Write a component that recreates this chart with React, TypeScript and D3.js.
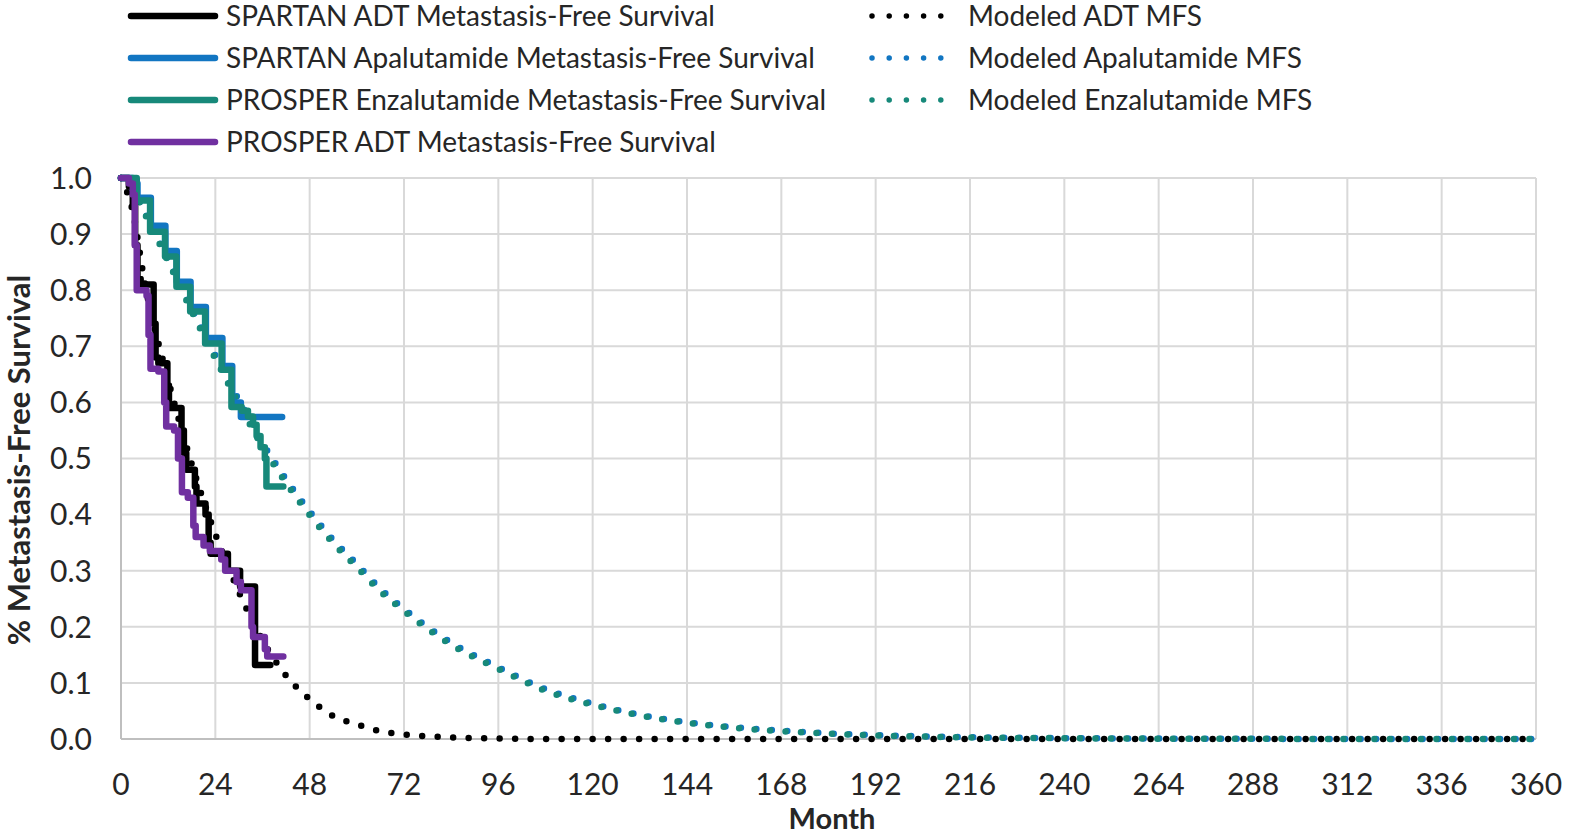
import React from 'react';
import * as d3 from 'd3';

// axis ticks
const monthTicks = [0, 24, 48, 72, 96, 120, 144, 168, 192, 216, 240, 264, 288, 312, 336, 360];
const survivalTicks = [0, 0.1, 0.2, 0.3, 0.4, 0.5, 0.6, 0.7, 0.8, 0.9, 1.0];

// Kaplan-Meier steps: [month, survival] (value holds until next month)
const spartanAdt = [
  [0, 1.0], [2, 0.985], [3, 0.95], [3.6, 0.88], [4.2, 0.82], [5, 0.81], [8.3, 0.74], [8.8, 0.68],
  [9.5, 0.67], [11.8, 0.63], [12.2, 0.59], [15.4, 0.55], [16, 0.51], [16.6, 0.48], [18.8, 0.45],
  [19.2, 0.42], [21.5, 0.4], [22.3, 0.35], [22.8, 0.33], [27.2, 0.3], [30.3, 0.272], [34.1, 0.132],
  [38, 0.132],
];
const spartanApa = [
  [0, 1.0], [3, 0.99], [4.2, 0.965], [7.6, 0.915], [11.3, 0.87], [14.2, 0.815], [17.7, 0.77],
  [21.6, 0.715], [25.8, 0.665], [28.3, 0.6], [30.5, 0.574], [41, 0.574],
];
const prosperEnza = [
  [0, 1.0], [4, 0.96], [7.4, 0.904], [11.2, 0.86], [14.1, 0.806], [17.6, 0.762], [21.4, 0.705],
  [25.6, 0.658], [28.1, 0.592], [30.7, 0.585], [32.3, 0.575], [33.6, 0.56], [34.5, 0.54],
  [35.5, 0.52], [36.6, 0.5], [37, 0.45], [41.3, 0.45],
];
const prosperAdt = [
  [0, 1.0], [2, 0.99], [3, 0.97], [3.5, 0.88], [4, 0.8], [6.5, 0.79], [7, 0.72], [7.5, 0.66],
  [9.5, 0.655], [11, 0.6], [11.5, 0.557], [13.5, 0.55], [14.5, 0.5], [15.5, 0.44], [17, 0.43],
  [18.4, 0.38], [19, 0.36], [21, 0.345], [22.6, 0.335], [25.5, 0.32], [26.5, 0.3], [29.4, 0.28],
  [30.5, 0.265], [33.2, 0.2], [33.6, 0.182], [36.6, 0.16], [37.2, 0.147], [41.3, 0.147],
];

// modeled curves
const modeledMonths = [0, 3, 6, 12, 18, 24, 30, 36, 42, 48, 54, 60, 66, 72, 84, 96, 108, 120, 132, 144, 156, 168, 180, 192, 216, 240, 264, 288, 312, 336, 360];
const modeledAdt = [1.0, 0.94, 0.815, 0.64, 0.49, 0.365, 0.262, 0.176, 0.113, 0.071, 0.041, 0.026, 0.014, 0.008, 0.003, 0.001, 0, 0, 0, 0, 0, 0, 0, 0, 0, 0, 0, 0, 0, 0, 0];
const modeledApa = [1.0, 0.98, 0.94, 0.855, 0.767, 0.684, 0.604, 0.528, 0.463, 0.406, 0.355, 0.312, 0.268, 0.232, 0.172, 0.128, 0.089, 0.063, 0.043, 0.03, 0.021, 0.015, 0.01, 0.007, 0.003, 0.0015, 0.0007, 0.0003, 0.0001, 0, 0];
const modeledEnza = [1.0, 0.98, 0.937, 0.851, 0.762, 0.678, 0.597, 0.521, 0.456, 0.399, 0.349, 0.306, 0.263, 0.228, 0.168, 0.125, 0.086, 0.061, 0.042, 0.029, 0.02, 0.014, 0.0095, 0.0065, 0.0028, 0.0014, 0.0006, 0.0003, 0.0001, 0, 0];

const BLACK = '#000000', BLUE = '#1276C2', TEAL = '#17897A', PURPLE = '#7030A0';
const FONT = 'Lato, sans-serif';

const kmSeries = [
  { name: 'SPARTAN ADT Metastasis-Free Survival', color: BLACK, data: spartanAdt },
  { name: 'SPARTAN Apalutamide Metastasis-Free Survival', color: BLUE, data: spartanApa },
  { name: 'PROSPER Enzalutamide Metastasis-Free Survival', color: TEAL, data: prosperEnza },
  { name: 'PROSPER ADT Metastasis-Free Survival', color: PURPLE, data: prosperAdt },
];
const modeledSeries = [
  { name: 'Modeled ADT MFS', color: BLACK, values: modeledAdt },
  { name: 'Modeled Apalutamide MFS', color: BLUE, values: modeledApa },
  { name: 'Modeled Enzalutamide MFS', color: TEAL, values: modeledEnza },
];

export default function App() {
  const width = 1570, height = 836;
  const x = d3.scaleLinear().domain([0, 360]).range([121, 1536]);
  const y = d3.scaleLinear().domain([0, 1]).range([739, 178]);

  const stepLine = d3.line<number[]>()
    .x(d => x(d[0]))
    .y(d => y(d[1]))
    .curve(d3.curveStepAfter);

  const smoothLine = d3.line<[number, number]>()
    .x(d => x(d[0]))
    .y(d => y(d[1]))
    .curve(d3.curveMonotoneX);

  return (
    <svg width={width} height={height} style={{ position: 'absolute', left: 0, top: 0, background: '#fff' }}>
      {/* grid */}
      <g stroke="#d9d9d9" strokeWidth={2}>
        {survivalTicks.map(t => (
          <line key={'h' + t} x1={x(0)} x2={x(360)} y1={y(t)} y2={y(t)} />
        ))}
        {monthTicks.map(t => (
          <line key={'v' + t} x1={x(t)} x2={x(t)} y1={y(0)} y2={y(1)} />
        ))}
      </g>
      <line x1={x(0)} x2={x(360)} y1={y(0)} y2={y(0)} stroke="#bfbfbf" strokeWidth={2} />
      <line x1={x(0)} x2={x(0)} y1={y(0)} y2={y(1)} stroke="#bfbfbf" strokeWidth={2} />

      {/* tick labels */}
      <g fontFamily={FONT} fontSize={30} fill="#262626">
        {survivalTicks.map(t => (
          <text key={'yl' + t} x={92} y={y(t)} dy="0.36em" textAnchor="end">{t.toFixed(1)}</text>
        ))}
        {monthTicks.map(t => (
          <text key={'xl' + t} x={x(t)} y={784} dy="0.36em" textAnchor="middle">{t}</text>
        ))}
      </g>

      {/* axis titles */}
      <text x={832} y={819} dy="0.36em" textAnchor="middle" fontFamily={FONT} fontSize={29} fontWeight="bold" fill="#262626">Month</text>
      <text transform="translate(19,460) rotate(-90)" dy="0.36em" textAnchor="middle" fontFamily={FONT} fontSize={31} fontWeight="bold" fill="#262626">% Metastasis-Free Survival</text>

      {/* modeled curves */}
      {modeledSeries.map(s => (
        <path key={s.name} d={smoothLine(modeledMonths.map((m, i) => [m, s.values[i]] as [number, number])) || ''}
          fill="none" stroke={s.color} strokeWidth={6.5} strokeDasharray="0 15.5" strokeLinecap="round" />
      ))}

      {/* Kaplan-Meier curves */}
      {kmSeries.map(s => (
        <path key={s.name} d={stepLine(s.data) || ''} fill="none" stroke={s.color}
          strokeWidth={6.5} strokeLinejoin="round" strokeLinecap="round" />
      ))}

      {/* legend */}
      <g fontFamily={FONT} fontSize={28} fill="#262626">
        {kmSeries.map((s, i) => (
          <g key={s.name} transform={`translate(0,${16 + i * 42})`}>
            <line x1={131} x2={215} y1={0} y2={0} stroke={s.color} strokeWidth={6.5} strokeLinecap="round" />
            <text x={226} y={0} dy="0.36em">{s.name}</text>
          </g>
        ))}
        {modeledSeries.map((s, i) => (
          <g key={s.name} transform={`translate(0,${16 + i * 42})`}>
            <line x1={872} x2={958} y1={0} y2={0} stroke={s.color} strokeWidth={5.5} strokeDasharray="0 17.2" strokeLinecap="round" />
            <text x={968} y={0} dy="0.36em">{s.name}</text>
          </g>
        ))}
      </g>
    </svg>
  );
}
